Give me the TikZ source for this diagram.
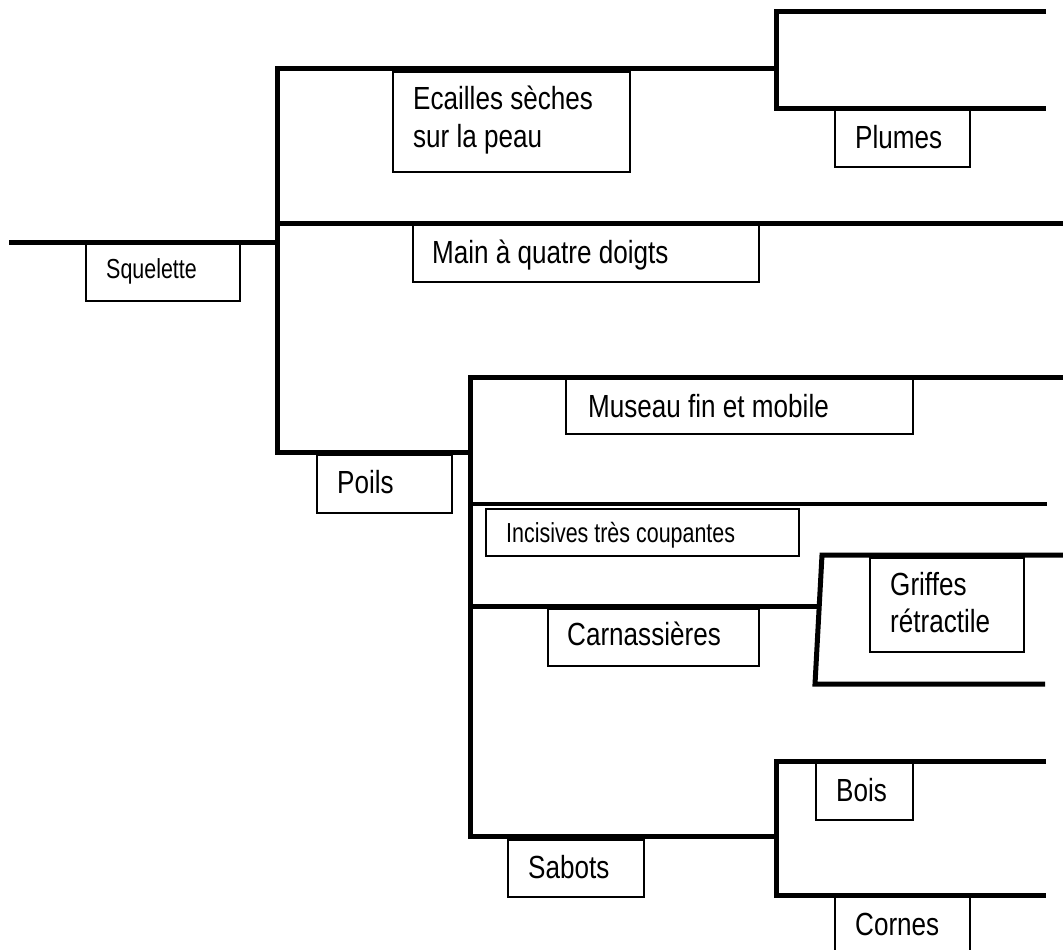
\documentclass[tikz,border=0pt]{standalone}
\usepackage{fontspec}
\newfontfamily\bigf{Liberation Sans}[FakeStretch=0.815]
\newfontfamily\smallf{Liberation Sans}[FakeStretch=0.78]
\newcommand{\twolines}[2]{\vtop{\hbox{#1}\hbox{#2}}}
\begin{document}
\begin{tikzpicture}[x=1pt,y=-1pt,
  branch/.style={line width=5pt, line join=miter},
  thinbranch/.style={line width=4pt},
  box/.style={draw, line width=2pt, fill=white, inner sep=0pt, anchor=north west},
  lbl/.style={anchor=base west, inner sep=0pt, font=\bigf\fontsize{32}{37}\selectfont},
  slbl/.style={anchor=base west, inner sep=0pt, font=\smallf\fontsize{27.5}{31}\selectfont}]
\useasboundingbox (0,0) rectangle (1063,950);
\clip (0,0) rectangle (1063,950);
\fill[white] (0,0) rectangle (1063,950);

% branch points
\coordinate (root) at (9,242);
\coordinate (n1) at (277,242);
\coordinate (n2) at (776,69);
\coordinate (n3) at (470,452);
\coordinate (n4) at (818,606);
\coordinate (n5) at (776,836);

% tree lines
\draw[branch] (root) -- (n1);
\draw[branch] (n2) -- (277,69) -- (277,452) -- (n3);
\draw[branch] (277,223) -- (1063,223);
\draw[branch] (1046,12) -- (776,12) -- (776,108) -- (1046,108);
\draw[branch] (1063,377) -- (470,377) -- (470,836) -- (n5);
\draw[thinbranch] (470,504) -- (1047,504);
\draw[branch] (470,606) -- (n4);
\draw[branch] (1063,555) -- (822,555) -- (815,684) -- (1045,684);
\draw[branch] (1046,761) -- (776,761) -- (776,895) -- (1046,895);

% boxes
\node[box, minimum width=154pt, minimum height=57pt] (sq) at (85,243) {};
\node[box, minimum width=237pt, minimum height=100pt] (ec) at (392,71) {};
\node[box, minimum width=135pt, minimum height=57pt] (pl) at (834,109) {};
\node[box, minimum width=346pt, minimum height=57pt] (ma) at (412,224) {};
\node[box, minimum width=135pt, minimum height=58pt] (po) at (316,454) {};
\node[box, minimum width=347pt, minimum height=55pt] (mu) at (565,378) {};
\node[box, minimum width=313pt, minimum height=47pt] (in) at (485,508) {};
\node[box, minimum width=211pt, minimum height=57pt] (ca) at (547,608) {};
\node[box, minimum width=154pt, minimum height=94pt] (gr) at (869,557) {};
\node[box, minimum width=136pt, minimum height=57pt] (sa) at (507,839) {};
\node[box, minimum width=97pt, minimum height=57pt] (bo) at (815,762) {};
\node[box, minimum width=135pt, minimum height=70pt] (co) at (834,896) {};

% labels
\node[slbl] (sqt) at (106,278) {Squelette};
\node[lbl] (ect) at (413,110) {\twolines{Ecailles sèches}{sur la peau}};
\node[lbl] (plt) at (855,148) {Plumes};
\node[lbl] (mat) at (432,263) {Main à quatre doigts};
\node[lbl] (pot) at (337,493) {Poils};
\node[lbl] (mut) at (588,417) {Museau fin et mobile};
\node[slbl] (int) at (506,542) {Incisives très coupantes};
\node[lbl] (cat) at (567,645) {Carnassières};
\node[lbl] (grt) at (890,595) {\twolines{Griffes}{rétractile}};
\node[lbl] (sat) at (528,878) {Sabots};
\node[lbl] (bot) at (836,801) {Bois};
\node[lbl] (cot) at (855,935) {Cornes};
\end{tikzpicture}
\end{document}
